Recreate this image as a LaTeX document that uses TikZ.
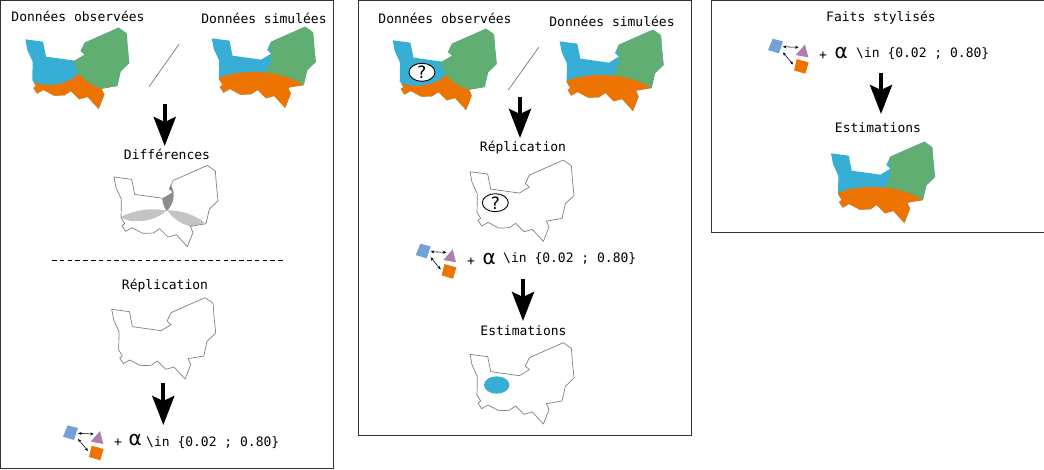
\documentclass[tikz,border=0pt]{standalone}
\usepackage{fontspec}
\setmainfont{DejaVu Sans}
\newfontfamily\monof{DejaVu Sans Mono}
\usetikzlibrary{arrows.meta,shapes.geometric}
\definecolor{cblue}{HTML}{36AED6}
\definecolor{cgreen}{HTML}{60AE72}
\definecolor{corange}{HTML}{EE7402}
\definecolor{isq}{HTML}{73A2D6}
\definecolor{itri}{HTML}{B17DAB}
\definecolor{lgray}{HTML}{C4C4C4}
\definecolor{dgray}{HTML}{8C8C8C}
\tikzset{
  frame/.style={draw=black!80,line width=1pt,fill=white},
  lab/.style={font=\monof\fontsize{13}{15}\selectfont,inner sep=0pt,anchor=base},
  outl/.style={draw=black!50,line width=0.7pt,line join=round},
  bigarrow/.style={-{Stealth[length=29pt,width=22pt,inset=5pt]},line width=4.2pt,black},
  slash/.style={draw=black!60,line width=0.6pt},
  small/.style={{Stealth[length=3.5pt,width=3pt]}-{Stealth[length=3.5pt,width=3pt]},line width=0.55pt,black},
  qm/.style={draw=black,fill=white,line width=0.9pt,ellipse,minimum width=26pt,minimum height=18pt,inner sep=0pt,font=\fontsize{17}{17}\selectfont},
  alph/.style={inner sep=0pt,anchor=base west,font=\fontsize{20}{20}\selectfont},
  mapsc/.style={x=0.3333pt,y=-0.3333pt},
}
\def\outline{(76,118) -- (129,125) -- (138,170) -- (224,182) -- (254,164) -- (242,153) -- (254,128) -- (356,83) -- (380,100) -- (383,140) -- (388,189) -- (362,214) -- (352,258) -- (305,266) -- (313,284) -- (296,327) -- (263,291) -- (238,298) -- (213,273) -- (194,286) -- (162,287) -- (130,270) -- (111,281) -- (100,264) -- (108,258) -- (97,240) -- (98,185) -- (82,150) -- cycle}
\newcommand{\obsfill}{%
  \begin{scope}
    \clip \outline;
    \fill[cblue] (0,0) rectangle (450,350);
    \fill[corange] (80,238) .. controls (130,265) and (200,258) .. (235,222) -- (330,262) -- (330,340) -- (80,340) -- cycle;
    \fill[cgreen] (221,180) .. controls (222,215) and (262,256) .. (305,266) -- (420,266) -- (420,60) -- (221,60) -- cycle;
  \end{scope}}
\newcommand{\simfill}{%
  \begin{scope}
    \clip \outline;
    \fill[cblue] (0,0) rectangle (450,350);
    \fill[cgreen] (252,150) .. controls (258,180) and (250,205) .. (233,222) -- (350,262) -- (420,262) -- (420,60) -- (235,60) -- cycle;
    \fill[corange] (95,238) .. controls (150,212) and (270,208) .. (349,256) -- (349,340) -- (80,340) -- cycle;
  \end{scope}}
\newcommand{\difffill}{%
  \begin{scope}
    \clip \outline;
    \fill[lgray] (95,238) .. controls (150,212) and (200,212) .. (233,218) .. controls (205,250) and (130,262) .. (95,238) -- cycle;
    \fill[lgray] (236,218) .. controls (280,218) and (320,232) .. (349,256) -- (305,266) .. controls (275,258) and (250,240) .. (236,218) -- cycle;
    \fill[dgray] (221,182) -- (254,164) -- (242,153) -- (246,140) .. controls (262,170) and (255,200) .. (234,220) .. controls (226,208) and (221,195) .. (221,182) -- cycle;
  \end{scope}}
\newcommand{\icon}[1]{%
  \begin{scope}[shift={(#1)},mapsc]
    \fill[isq] (53,376) -- (84,384) -- (72,420) -- (39,410) -- cycle;
    \fill[itri] (122,425) -- (150,393) -- (160,432) -- cycle;
    \fill[corange] (125,437) -- (161,447) -- (151,481) -- (117,471) -- cycle;
    \coordinate (ia) at (84,400);
    \coordinate (ib) at (131,402);
    \coordinate (ic) at (84,417);
    \coordinate (id) at (114,453);
    \draw[small] (ia) -- (ib);
    \draw[small] (ic) -- (id);
  \end{scope}}
\begin{document}
\begin{tikzpicture}[x=1pt,y=-1pt]
\useasboundingbox (0,0) rectangle (1044,469);
\fill[white] (0,0) rectangle (1044,469);
% frames
\draw[frame] (0.5,0.5) rectangle (333,468.3);
\draw[frame] (358.5,0) rectangle (691.2,435);
\draw[frame] (711,0) rectangle (1045,232.5);
% left panel
\node[lab] (t1) at (78,21.7) {Données observées};
\node[lab] (t2) at (264,23.3) {Données simulées};
\begin{scope}[shift={(0,0)},mapsc]\obsfill\end{scope}
\begin{scope}[shift={(186.5,-1)},mapsc]\simfill\end{scope}
\coordinate (s1a) at (149,86.7); \coordinate (s1b) at (179,44.3);
\draw[slash] (s1a) -- (s1b);
\coordinate (a1a) at (164.7,104); \coordinate (a1b) at (164.7,146);
\draw[bigarrow] (a1a) -- (a1b);
\node[lab] (t3) at (167,159) {Différences};
\begin{scope}[shift={(88.7,137.7)},mapsc]\difffill\draw[outl] \outline;\end{scope}
\coordinate (d1a) at (52,260); \coordinate (d1b) at (285,260);
\draw[black,line width=0.8pt,dash pattern=on 4.6pt off 3.2pt] (d1a) -- (d1b);
\node[lab] (t4) at (165,289.3) {Réplication};
\begin{scope}[shift={(86.4,270)},mapsc]\draw[outl] \outline;\end{scope}
\coordinate (a2a) at (163.3,383); \coordinate (a2b) at (163.3,425);
\draw[bigarrow] (a2a) -- (a2b);
\icon{50,300}
\node[lab,anchor=base west] (f1) at (114,446) {+};
\node[alph] (g1) at (128.5,445.7) {α};
\node[lab,anchor=base west] (h1) at (146,446) {\textbackslash in \{0.02 ; 0.80\}};
% middle panel
\node[lab] (t5) at (445,23) {Données observées};
\node[lab] (t6) at (612,26) {Données simulées};
\begin{scope}[shift={(367.4,1)},mapsc]\obsfill\end{scope}
\node[qm] (q1) at (422,72.3) {?};
\begin{scope}[shift={(534.3,2)},mapsc]\simfill\end{scope}
\coordinate (s2a) at (508.3,90); \coordinate (s2b) at (538.7,47.3);
\draw[slash] (s2a) -- (s2b);
\coordinate (a3a) at (520,97); \coordinate (a3b) at (520,138);
\draw[bigarrow] (a3a) -- (a3b);
\node[lab] (t7) at (523,151) {Réplication};
\begin{scope}[shift={(444.7,132.4)},mapsc]\draw[outl] \outline;\end{scope}
\node[qm] (q2) at (495.3,202.7) {?};
\icon{402.7,118.4}
\node[lab,anchor=base west] (f2) at (467,265) {+};
\node[alph] (g2) at (482.5,264) {α};
\node[lab,anchor=base west] (h2) at (503,262.7) {\textbackslash in \{0.02 ; 0.80\}};
\coordinate (a4a) at (523,279); \coordinate (a4b) at (523,321);
\draw[bigarrow] (a4a) -- (a4b);
\node[lab] (t8) at (523.5,335) {Estimations};
\begin{scope}[shift={(444.7,315)},mapsc]\draw[outl] \outline;\end{scope}
\node[fill=cblue,ellipse,minimum width=25.4pt,minimum height=17.4pt,inner sep=0pt] (e1) at (496.7,385) {};
% right panel
\node[lab] (t9) at (881,21) {Faits stylisés};
\icon{755,-86.6}
\node[lab,anchor=base west] (f3) at (819,59.5) {+};
\node[alph] (g3) at (834.5,58.3) {α};
\node[lab,anchor=base west] (h3) at (856,57.3) {\textbackslash in \{0.02 ; 0.80\}};
\coordinate (a5a) at (881,73); \coordinate (a5b) at (881,114);
\draw[bigarrow] (a5a) -- (a5b);
\node[lab] (t10) at (878,132.7) {Estimations};
\begin{scope}[shift={(805.7,114)},mapsc]\simfill\end{scope}
\end{tikzpicture}
\end{document}
